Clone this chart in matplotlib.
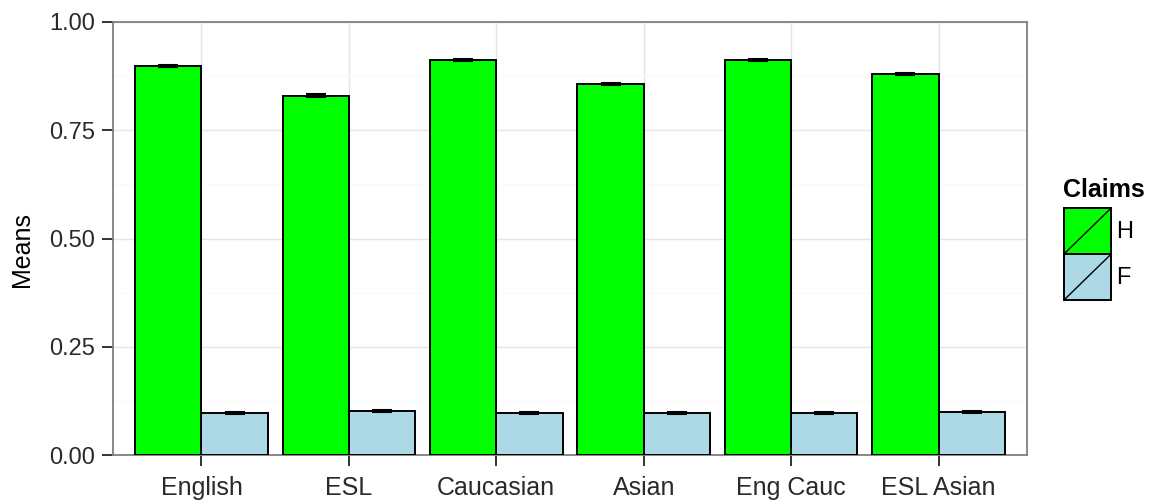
import matplotlib.pyplot as plt
import numpy as np
from matplotlib.patches import Rectangle, Patch
from matplotlib.lines import Line2D
from matplotlib.legend_handler import HandlerBase

plt.rcParams['font.family'] = ['Liberation Sans', 'DejaVu Sans']

groups = ['English', 'ESL', 'Caucasian', 'Asian', 'Eng Cauc', 'ESL Asian']
claims = ['H', 'F']
h_means = [0.898, 0.830, 0.912, 0.857, 0.912, 0.880]
h_se = [0.002, 0.003, 0.002, 0.002, 0.002, 0.002]
f_means = [0.097, 0.102, 0.097, 0.097, 0.097, 0.100]
f_se = [0.002, 0.003, 0.002, 0.002, 0.002, 0.002]
colors = ['#00ff00', '#add8e6']


# legend key with the little diagonal slash
class SlashHandler(HandlerBase):
    def create_artists(self, legend, orig_handle, xdescent, ydescent,
                       width, height, fontsize, trans):
        r = Rectangle((-xdescent, -ydescent), width, height,
                      facecolor=orig_handle.get_facecolor(), edgecolor='black',
                      lw=1.4, transform=trans)
        l = Line2D([-xdescent, -xdescent + width], [-ydescent, -ydescent + height],
                   color='black', lw=1.0, transform=trans)
        return [r, l]


fig = plt.figure(figsize=(11.54, 5.01), dpi=100)
ax = fig.add_axes([113 / 1154, 46 / 501, 914 / 1154, 433 / 501])

x = np.arange(len(groups))
bw = 0.45
for i, (m, se) in enumerate([(h_means, h_se), (f_means, f_se)]):
    pos = x + (i - 0.5) * bw
    ax.bar(pos, m, width=bw, color=colors[i], edgecolor='black', linewidth=1.4, zorder=3)
    ax.errorbar(pos, m, yerr=se, fmt='none', ecolor='black', elinewidth=1.5,
                capsize=7, capthick=1.5, zorder=4)

ax.set_xlim(-0.6, len(groups) - 0.4)
ax.set_ylim(0, 1)
ax.set_yticks([0, 0.25, 0.5, 0.75, 1.0])
ax.set_yticklabels(['0.00', '0.25', '0.50', '0.75', '1.00'])
ax.set_yticks([0.125, 0.375, 0.625, 0.875], minor=True)
ax.set_xticks(x)
ax.set_xticklabels(groups)

ax.grid(True, which='major', color='#e5e5e5', lw=1, zorder=0)
ax.grid(True, which='minor', axis='y', color='#fafafa', lw=1, zorder=0)
ax.tick_params(which='minor', length=0)
ax.tick_params(which='major', length=8, width=1.4, color='#333333',
               labelcolor='#2a2a2a')
ax.tick_params(axis='y', labelsize=17, pad=5)
ax.tick_params(axis='x', labelsize=18, pad=7)
for s in ax.spines.values():
    s.set_color('#7f7f7f')
    s.set_linewidth(1.3)

ax.set_ylabel('Means', fontsize=18)
ax.yaxis.set_label_coords(-79 / 914, 0.475)

# legend: title as plain text, keys stacked underneath
fig.text(1063 / 1154, 1 - 197 / 501, 'Claims', fontsize=18, fontweight='bold',
         ha='left', va='baseline')
handles = [Patch(facecolor=c) for c in colors]
leg = fig.legend(handles, claims, loc='upper left',
                 bbox_to_anchor=(1064 / 1154, 1 - 208 / 501),
                 handler_map={Patch: SlashHandler()}, frameon=False,
                 fontsize=17, handlelength=2.0, handleheight=2.62, labelspacing=0,
                 handletextpad=0.2, borderpad=0, borderaxespad=0)

fig.savefig('out.png', dpi=100)
